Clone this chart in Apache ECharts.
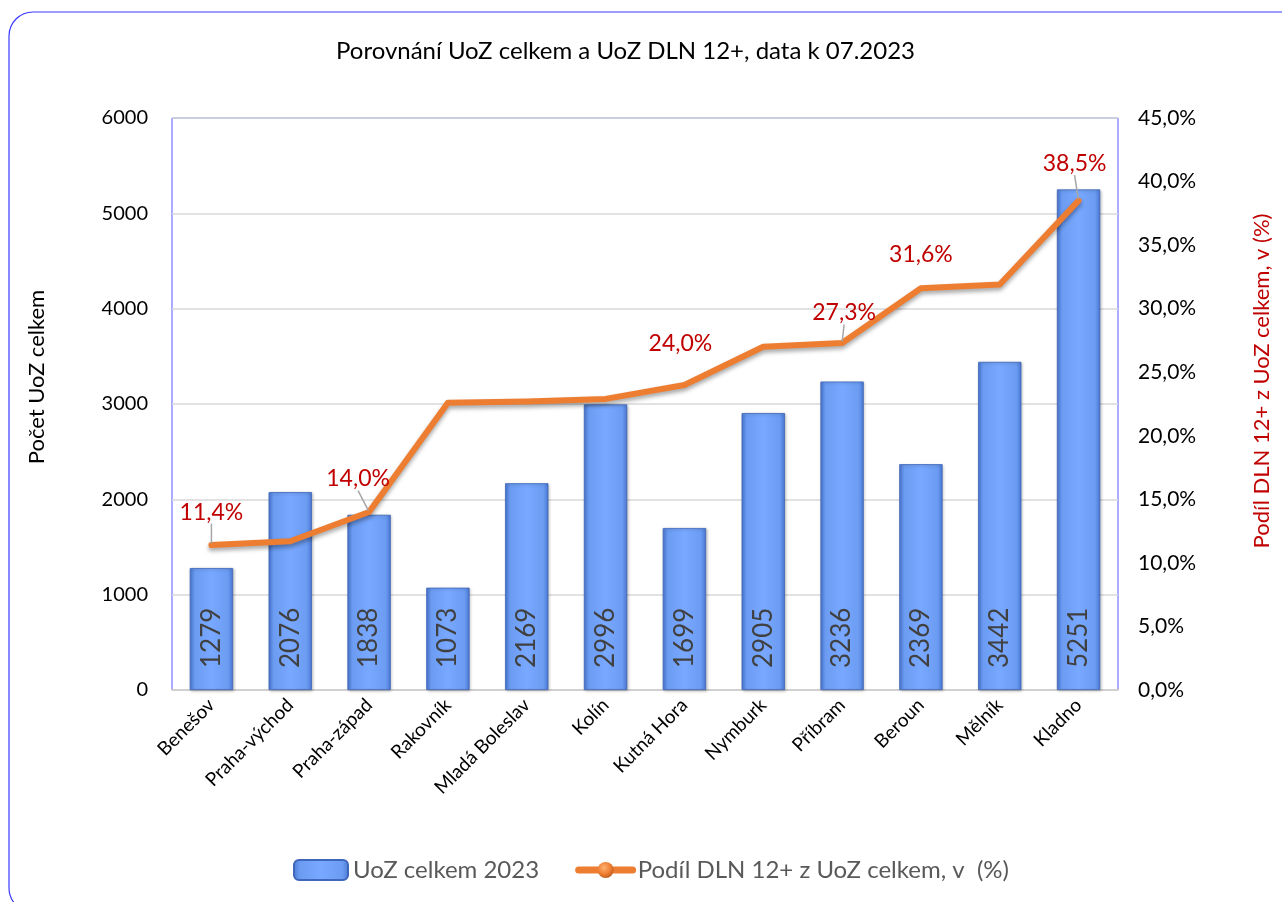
<!DOCTYPE html>
<html><head><meta charset="utf-8">
<script src="https://cdn.jsdelivr.net/npm/echarts@6/dist/echarts.min.js"></script>
<style>html,body{margin:0;padding:0;background:#fff}#c{width:1282px;height:902px}</style>
</head><body><div id="c"></div>
<script>
const categories = ['Benešov','Praha-východ','Praha-západ','Rakovník','Mladá Boleslav','Kolín','Kutná Hora','Nymburk','Příbram','Beroun','Mělník','Kladno'];
const uozCelkem = [1279,2076,1838,1073,2169,2996,1699,2905,3236,2369,3442,5251];
const podilDLN = [11.4,11.7,14.0,22.6,22.7,22.9,24.0,27.0,27.3,31.6,31.9,38.5];
const shownLabels = [0,2,6,8,9,11];
const leaderLines = [0,2,8,11];
const labelShift = {0:[0,-20],2:[-11,-20],6:[-4,-28],8:[2,-17],9:[0,-21],11:[-4,-24]};

const FONT = 'Lato, "Open Sans", sans-serif';
const chart = echarts.init(document.getElementById('c'));
const barGrad = new echarts.graphic.LinearGradient(0,0,1,0,[
  {offset:0,color:'#4a78d4'},{offset:0.12,color:'#6b9cf2'},{offset:0.5,color:'#78a8ff'},{offset:0.88,color:'#6b9cf2'},{offset:1,color:'#4a78d4'}]);
const ballGrad = new echarts.graphic.RadialGradient(0.4,0.35,0.7,[
  {offset:0,color:'#ffb070'},{offset:0.6,color:'#ed7d31'},{offset:1,color:'#b85a1c'}]);
const lineData = podilDLN.map((v,i)=>({value:v,labelLine:{show:leaderLines.includes(i)}}));
chart.setOption({
  animation:false,
  textStyle:{fontFamily:FONT},
  title:{text:'Porovnání UoZ celkem a UoZ DLN 12+, data k 07.2023',left:331,top:34,
    textStyle:{fontFamily:FONT,fontSize:24,fontWeight:'normal',color:'#000'}},
  graphic:[{type:'rect',shape:{x:9,y:12,width:1300,height:900,r:24},style:{fill:'none',stroke:'#3a3aff',lineWidth:1.2},silent:true}],
  legend:{top:853,left:288,itemWidth:54,itemHeight:20,itemGap:36,
    textStyle:{fontFamily:FONT,fontSize:24,color:'#595959'},
    data:[{name:'UoZ celkem 2023'},
          {name:'Podíl DLN 12+ z UoZ celkem, v  (%)',itemStyle:{color:ballGrad},lineStyle:{width:7,color:'#ed7d31'}}]},
  grid:{left:172,right:164,top:118,bottom:212,show:true,borderColor:'#5b5bff',borderWidth:1},
  xAxis:{type:'category',data:categories,
    axisLine:{lineStyle:{color:'#d0d0d0',width:2}},axisTick:{show:false},
    axisLabel:{rotate:45,interval:0,fontSize:19,color:'#000',fontFamily:FONT,margin:12}},
  yAxis:[
    {type:'value',min:0,max:6000,interval:1000,name:'Počet UoZ celkem',nameLocation:'middle',nameGap:124,nameRotate:90,
     nameTextStyle:{fontSize:22,color:'#000',fontFamily:FONT,padding:[0,0,0,54]},
     axisLabel:{fontSize:20,color:'#000',margin:24,fontFamily:FONT,formatter:v=>String(v)},
     axisLine:{show:false},axisTick:{show:false},
     splitLine:{lineStyle:{color:'#d9d9d9',width:1.5}}},
    {type:'value',min:0,max:45,interval:5,name:'Podíl DLN 12+ z UoZ celkem, v (%)',nameLocation:'middle',nameGap:133,nameRotate:90,
     nameTextStyle:{fontSize:22,color:'#c00000',fontFamily:FONT,padding:[0,0,0,46]},
     axisLabel:{fontSize:21,color:'#000',margin:20,fontFamily:FONT,formatter:v=>v.toFixed(1).replace('.',',')+'%'},
     axisLine:{show:false},axisTick:{show:false},splitLine:{show:false}}
  ],
  series:[
    {name:'UoZ celkem 2023',type:'bar',data:uozCelkem,barWidth:'55%',
     itemStyle:{color:barGrad,borderColor:'#3f66b8',borderWidth:0.8,shadowColor:'rgba(0,0,0,0.25)',shadowBlur:3,shadowOffsetX:1,shadowOffsetY:1},
     label:{show:true,position:'insideBottom',rotate:90,align:'left',verticalAlign:'middle',distance:22,fontSize:26,color:'#404040',fontFamily:FONT}},
    {name:'Podíl DLN 12+ z UoZ celkem, v  (%)',type:'line',yAxisIndex:1,data:lineData,
     symbol:'circle',symbolSize:3,showSymbol:true,
     itemStyle:{color:'#ed7d31'},
     lineStyle:{color:'#ed7d31',width:6,shadowColor:'rgba(0,0,0,0.35)',shadowBlur:4,shadowOffsetY:3,cap:'round',join:'round'},
     label:{show:true,position:'top',distance:0,fontSize:23,color:'#c00000',fontFamily:FONT,
       formatter:p=>shownLabels.includes(p.dataIndex)?p.value.toFixed(1).replace('.',',')+'%':''},
     labelLayout:p=>{const s=labelShift[p.dataIndex];return s?{dx:s[0],dy:s[1]}:{};},
     labelLine:{show:true,length2:0,lineStyle:{color:'#a6a6a6',width:1.5}}}
  ]
});
</script></body></html>
